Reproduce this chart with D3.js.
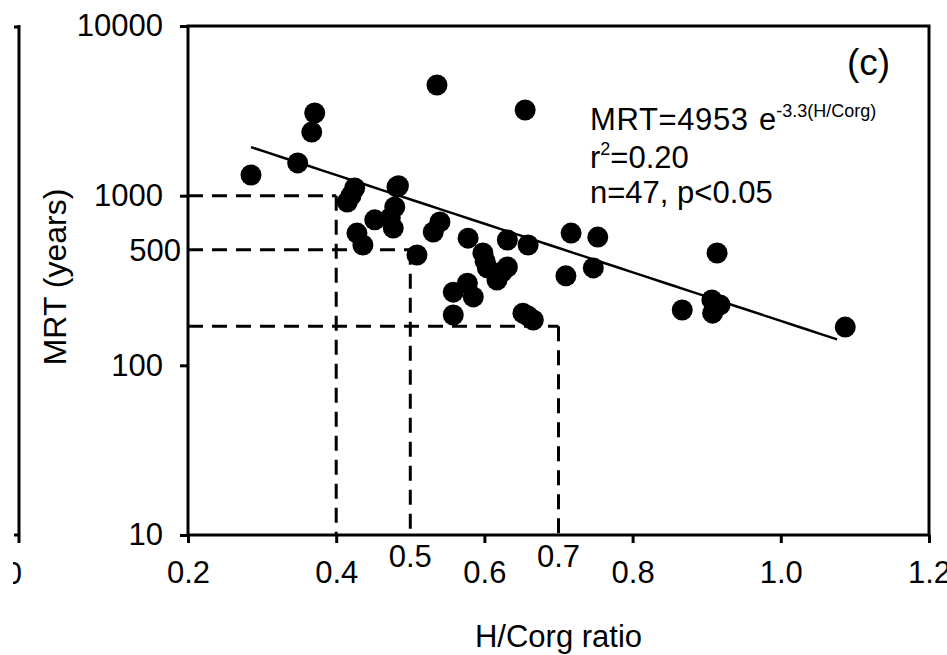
<!DOCTYPE html>
<html>
<head>
<meta charset="utf-8">
<script src="https://cdnjs.cloudflare.com/ajax/libs/d3/7.8.5/d3.min.js"></script>
<style>
body { margin: 0; background: #fff; }
text { font-family: "Liberation Sans", Arial, sans-serif; fill: #000; }
</style>
</head>
<body>
<div id="chart"></div>
<script>
// H/Corg ratio and mean residence time (years)
var hcRatio = [0.285, 0.348, 0.371, 0.367, 0.425, 0.415, 0.482, 0.479, 0.477, 0.452,
    0.428, 0.436, 0.509, 0.536, 0.655, 0.540, 0.531, 0.578, 0.631, 0.659,
    0.598, 0.604, 0.631, 0.617, 0.577, 0.558, 0.585, 0.558, 0.652, 0.666,
    0.717, 0.753, 0.710, 0.747, 0.914, 0.867, 0.907, 0.908, 1.087, 0.918,
    0.484, 0.420, 0.473, 0.601, 0.624, 0.659, 0.911];
var mrtYears = [1324, 1560, 3069, 2371, 1109, 918, 1125, 857, 644, 720,
    602, 512, 447, 4488, 3199, 700, 611, 562, 548, 512,
    459, 375, 380, 318, 305, 270, 253, 198, 203, 185,
    602, 570, 337, 375, 459, 212, 243, 203, 168, 227,
    1144, 1000, 740, 411, 355, 195, 220];

// fitted curve MRT = a * exp(b * H/Corg)
var fitA = 4953;
var fitB = -3.3;
var fitFrom = 0.285;
var fitTo = 1.076;

// dashed guides: MRT level and the ratio where it drops to the axis
var guideMrt = [1000, 480, 170];
var guideRatio = [0.4, 0.5, 0.7];

var xTicks = [0.2, 0.4, 0.6, 0.8, 1.0, 1.2];
var xExtraTicks = [0.5, 0.7];
var yTicks = [10, 100, 1000, 10000];
var yExtraTicks = [500];

var ctx = {
    w: 947,
    h: 655,
    left: 188,
    right: 929,
    top: 26,
    bottom: 535
};

var createChart = function () {
    var svg = d3.select("#chart").append("svg")
        .attr("width", ctx.w)
        .attr("height", ctx.h);

    var x = d3.scaleLinear().domain([0.2, 1.2]).range([ctx.left, ctx.right]);
    var y = d3.scaleLog().domain([10, 10000]).range([ctx.bottom, ctx.top]);

    // partial frame of the neighbouring panel at the far left
    var clip = svg.append("clipPath").attr("id", "leftclip");
    clip.append("rect").attr("x", 13).attr("y", 0).attr("width", 40).attr("height", ctx.h);
    var outer = svg.append("g").attr("clip-path", "url(#leftclip)");
    outer.append("path")
        .attr("d", "M19," + (ctx.top - 1) + "V" + (ctx.bottom + 8) +
            "M14," + (ctx.top + 1) + "H19M14," + ctx.bottom + "H19")
        .attr("stroke", "#000").attr("stroke-width", 3).attr("fill", "none");
    outer.append("text")
        .attr("x", 22).attr("y", 584)
        .attr("text-anchor", "end")
        .style("font-size", "31px")
        .text("0");

    // dashed guides
    var guides = svg.append("g")
        .attr("stroke", "#000")
        .attr("stroke-width", 3)
        .attr("stroke-dasharray", "15,9")
        .attr("fill", "none");
    for (var i = 0; i < guideMrt.length; i++) {
        guides.append("line")
            .attr("x1", ctx.left).attr("x2", x(guideRatio[i]))
            .attr("y1", y(guideMrt[i])).attr("y2", y(guideMrt[i]));
        guides.append("line")
            .attr("x1", x(guideRatio[i])).attr("x2", x(guideRatio[i]))
            .attr("y1", y(guideMrt[i])).attr("y2", ctx.bottom);
    }

    // fitted line
    var fitPts = d3.range(0, 41).map(function (k) {
        var r = fitFrom + (fitTo - fitFrom) * k / 40;
        return [r, fitA * Math.exp(fitB * r)];
    });
    svg.append("path")
        .datum(fitPts)
        .attr("d", d3.line()
            .x(function (d) { return x(d[0]); })
            .y(function (d) { return y(d[1]); }))
        .attr("stroke", "#000")
        .attr("stroke-width", 2.5)
        .attr("fill", "none");

    // points
    svg.selectAll("circle.pt")
        .data(d3.range(hcRatio.length))
        .enter().append("circle")
        .attr("class", "pt")
        .attr("cx", function (i) { return x(hcRatio[i]); })
        .attr("cy", function (i) { return y(mrtYears[i]); })
        .attr("r", 10.5)
        .attr("fill", "#000");

    // plot box
    svg.append("rect")
        .attr("x", ctx.left).attr("y", ctx.top)
        .attr("width", ctx.right - ctx.left)
        .attr("height", ctx.bottom - ctx.top)
        .attr("fill", "none")
        .attr("stroke", "#000")
        .attr("stroke-width", 3);

    // axes
    var xAxis = svg.append("g")
        .attr("transform", "translate(0," + ctx.bottom + ")")
        .call(d3.axisBottom(x)
            .tickValues(xTicks)
            .tickFormat(d3.format(".1f"))
            .tickSize(8)
            .tickSizeOuter(0)
            .tickPadding(18));
    xAxis.select(".domain").remove();
    xAxis.selectAll("line").attr("stroke-width", 3);
    xAxis.selectAll("text")
        .style("font-size", "31px")
        .style("font-family", "'Liberation Sans', Arial, sans-serif");

    svg.selectAll("text.xextra")
        .data(xExtraTicks)
        .enter().append("text")
        .attr("class", "xextra")
        .attr("x", function (d) { return x(d); })
        .attr("y", 567)
        .attr("text-anchor", "middle")
        .style("font-size", "31px")
        .text(d3.format(".1f"));

    var yAxis = svg.append("g")
        .attr("transform", "translate(" + ctx.left + ",0)")
        .call(d3.axisLeft(y)
            .tickValues(yTicks)
            .tickFormat(d3.format("d"))
            .tickSize(8)
            .tickSizeOuter(0)
            .tickPadding(17));
    yAxis.select(".domain").remove();
    yAxis.selectAll("line").attr("stroke-width", 3);
    yAxis.selectAll("text")
        .style("font-size", "31px")
        .style("font-family", "'Liberation Sans', Arial, sans-serif");

    svg.selectAll("text.yextra")
        .data(yExtraTicks)
        .enter().append("text")
        .attr("class", "yextra")
        .attr("x", 181)
        .attr("y", function (d) { return y(d); })
        .attr("dy", "0.45em")
        .attr("text-anchor", "end")
        .style("font-size", "31px")
        .text(function (d) { return d; });

    // axis titles
    svg.append("text")
        .attr("x", (ctx.left + ctx.right) / 2)
        .attr("y", 647)
        .attr("text-anchor", "middle")
        .style("font-size", "31px")
        .text("H/Corg ratio");
    svg.append("text")
        .attr("transform", "translate(66,277) rotate(-90)")
        .attr("text-anchor", "middle")
        .style("font-size", "32px")
        .text("MRT (years)");

    // panel letter and fit statistics
    svg.append("text")
        .attr("x", 847).attr("y", 75)
        .style("font-size", "37px")
        .text("(c)");

    var eq = svg.append("text")
        .attr("x", 590).attr("y", 130)
        .style("font-size", "31px");
    eq.append("tspan").attr("textLength", 158).text("MRT=" + fitA);
    eq.append("tspan").attr("x", 759).text("e");
    eq.append("tspan")
        .attr("dy", -13)
        .style("font-size", "18px")
        .text(fitB + "(H/Corg)");

    var r2 = svg.append("text")
        .attr("x", 590).attr("y", 168)
        .style("font-size", "31px");
    r2.append("tspan").text("r");
    r2.append("tspan").attr("dy", -13).style("font-size", "18px").text("2");
    r2.append("tspan").attr("dy", 13).text("=0.20");

    svg.append("text")
        .attr("x", 590).attr("y", 203)
        .style("font-size", "31px")
        .text("n=" + hcRatio.length + ", p<0.05");
};

createChart();
</script>
</body>
</html>
